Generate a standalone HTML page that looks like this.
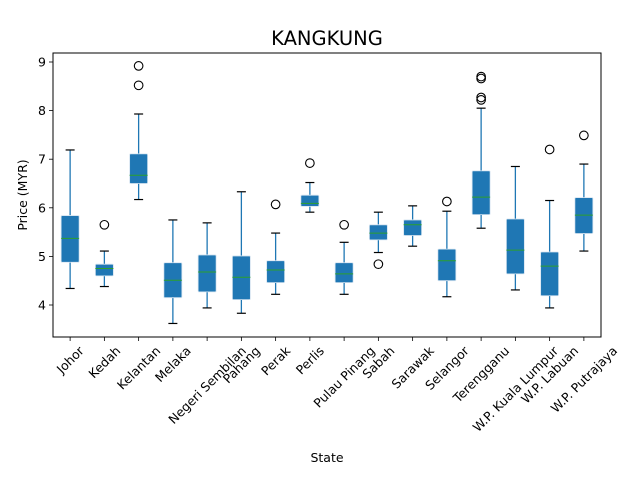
<!DOCTYPE html>
<html><head><meta charset="utf-8"><style>
html,body{margin:0;padding:0;background:#fff;}
svg{display:block;font-family:"DejaVu Sans","Liberation Sans",sans-serif;}
</style></head><body>
<svg id="chart" width="640" height="480"></svg>
<script>
const states=["Johor","Kedah","Kelantan","Melaka","Negeri Sembilan","Pahang","Perak","Perlis","Pulau Pinang","Sabah","Sarawak","Selangor","Terengganu","W.P. Kuala Lumpur","W.P. Labuan","W.P. Putrajaya"];
const whiskerLow=[4.34,4.38,6.17,3.62,3.94,3.83,4.22,5.91,4.22,5.08,5.21,4.17,5.58,4.31,3.94,5.11];
const q1=[4.88,4.60,6.50,4.15,4.27,4.11,4.46,6.03,4.46,5.34,5.43,4.50,5.86,4.64,4.19,5.47];
const medians=[5.37,4.75,6.67,4.51,4.68,4.57,4.72,6.09,4.64,5.48,5.65,4.91,6.22,5.13,4.80,5.85];
const q3=[5.84,4.84,7.11,4.87,5.03,5.01,4.91,6.26,4.87,5.65,5.75,5.15,6.76,5.77,5.09,6.21];
const whiskerHigh=[7.19,5.11,7.93,5.75,5.69,6.33,5.48,6.52,5.29,5.91,6.04,5.93,8.05,6.85,6.15,6.90];
const outliers=[[],[5.65],[8.92,8.52],[],[],[],[6.07],[6.92],[5.65],[4.84],[],[6.13],[8.70,8.66,8.27,8.22],[],[7.20],[7.49]];
const yTicks=[4,5,6,7,8,9];

const NS="http://www.w3.org/2000/svg";
const svg=document.getElementById('chart');
const L=53,R=601,T=53,B=337;
const y=v=>305-(v-4)*48.6;
const bw=(R-L)/states.length;
const x=i=>L+bw*(i+0.5);
function el(tag,attrs,parent){const e=document.createElementNS(NS,tag);for(const k in attrs)e.setAttribute(k,attrs[k]);(parent||svg).appendChild(e);return e;}

const title=el('text',{x:(L+R)/2,y:45,'text-anchor':'middle','font-size':'19.5'});
title.textContent='KANGKUNG';



for(const t of yTicks){
  const g=el('g',{});
  
  
  el('line',{x1:L-4,x2:L,y1:y(t),y2:y(t),stroke:'#000','stroke-width':0.8},g);
  const tx=el('text',{x:L-7,y:y(t)+4.5,'text-anchor':'end','font-size':'12.5'},g);
  tx.textContent=t;
}
const yl=el('text',{x:0,y:0,transform:'translate(27,195) rotate(-90)','text-anchor':'middle','font-size':'12.5'});
yl.textContent='Price (MYR)';


const xl=el('text',{x:(L+R)/2,y:462,'text-anchor':'middle','font-size':'12.5'});
xl.textContent='State';



states.forEach((s,i)=>{
  const cx=x(i);
  const g=el('g',{});
  
  
  el('line',{x1:cx,x2:cx,y1:y(whiskerHigh[i]),y2:y(q3[i]),stroke:'#1f77b4','stroke-width':1.3},g);
  el('line',{x1:cx,x2:cx,y1:y(q1[i]),y2:y(whiskerLow[i]),stroke:'#1f77b4','stroke-width':1.3},g);
  el('line',{x1:cx-4.5,x2:cx+4.5,y1:y(whiskerHigh[i]),y2:y(whiskerHigh[i]),stroke:'#000','stroke-width':1.2},g);
  el('line',{x1:cx-4.5,x2:cx+4.5,y1:y(whiskerLow[i]),y2:y(whiskerLow[i]),stroke:'#000','stroke-width':1.2},g);
  el('rect',{x:cx-9,y:y(q3[i]),width:18,height:y(q1[i])-y(q3[i]),fill:'#1f77b4',stroke:'#d6e4f0','stroke-width':0.8,rx:1},g);
  el('line',{x1:cx-9,x2:cx+9,y1:y(medians[i]),y2:y(medians[i]),stroke:'#2ca02c','stroke-width':1},g);
  outliers[i].forEach(v=>el('circle',{cx:cx,cy:y(v),r:4.3,fill:'none',stroke:'#000','stroke-width':1.1},g));
  el('line',{x1:cx,x2:cx,y1:B,y2:B+4,stroke:'#000','stroke-width':0.8},g);
  const lbl=el('text',{x:0,y:0,'text-anchor':'middle','dominant-baseline':'central','font-size':'12.5'});
  lbl.textContent=s;
  
  
  const w=lbl.getComputedTextLength();
  const h=12.5;
  const half=(w+h)*0.7071/2;
  lbl.setAttribute('transform',`translate(${cx},${B+7+half}) rotate(-45)`);
});

const frame=el('rect',{x:L,y:T,width:R-L,height:B-T,fill:'none',stroke:'#000','stroke-width':1});


</script>
</body></html>
